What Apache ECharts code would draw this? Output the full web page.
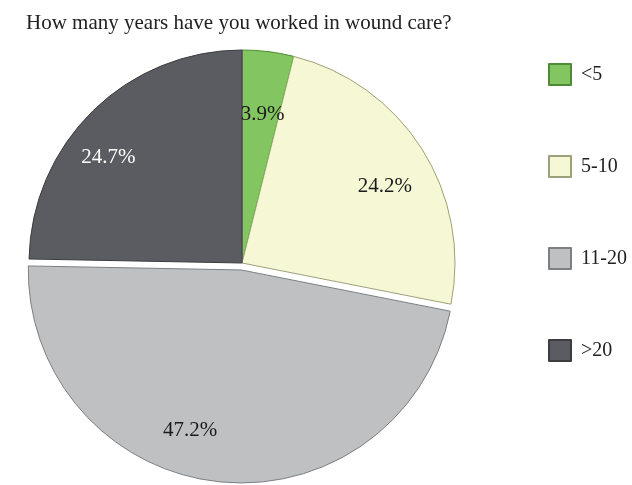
<!DOCTYPE html>
<html>
<head>
<meta charset="utf-8">
<script src="https://cdn.jsdelivr.net/npm/echarts@6/dist/echarts.min.js"></script>
<style>
  html, body { margin: 0; padding: 0; background: #fff; }
  #chart { width: 632px; height: 485px; }
</style>
</head>
<body>
<div id="chart"></div>
<script>
// Survey: years worked in wound care (percent of respondents)
const titleText = 'How many years have you worked in wound care?';
const categories = ['<5', '5-10', '11-20', '>20'];
const shares = [3.9, 24.2, 47.2, 24.7];
const raisedSlice = '11-20';

// Styling
const sliceColors = ['#83c561', '#f6f7d4', '#bfc0c2', '#5a5c61'];
const edgeColors = ['#4f8a36', '#9ea07c', '#7d7f82', '#3c3d41'];
const labelColors = ['#1a1a1a', '#1a1a1a', '#1a1a1a', '#ffffff'];
const labelNudge = [[0, 18], [1, 14], [-34, 0], [-16, 14]];

const serif = '"Liberation Serif", "DejaVu Serif", serif';
const pieCenter = [242, 263];

const pieData = categories.map((name, i) => ({
  name,
  value: shares[i],
  selected: name === raisedSlice,
  itemStyle: { color: sliceColors[i], borderColor: edgeColors[i], borderWidth: 1 }
}));

// Invisible twin pie: only carries the percentage labels further out along each slice
const labelData = categories.map((name, i) => ({
  name,
  value: shares[i],
  label: { color: labelColors[i] }
}));

const chart = echarts.init(document.getElementById('chart'), null, { renderer: 'canvas' });

chart.setOption({
  backgroundColor: '#ffffff',
  animation: false,
  title: {
    text: titleText,
    left: 26,
    top: 13,
    padding: 0,
    textStyle: { fontFamily: serif, fontSize: 21, fontWeight: 'normal', color: '#222' }
  },
  legend: {
    orient: 'vertical',
    left: 548,
    top: 63,
    padding: 0,
    itemWidth: 22,
    itemHeight: 21,
    itemGap: 69,
    icon: 'rect',
    selectedMode: false,
    data: categories,
    textStyle: { fontFamily: serif, fontSize: 20, color: '#222', padding: [0, 0, 0, 5] }
  },
  series: [
    {
      name: 'years',
      type: 'pie',
      z: 2,
      center: pieCenter,
      radius: [0, 213],
      startAngle: 90,
      clockwise: true,
      selectedMode: 'single',
      selectedOffset: 7,
      silent: true,
      label: { show: false },
      labelLine: { show: false },
      data: pieData
    },
    {
      name: 'labels',
      type: 'pie',
      z: 5,
      center: pieCenter,
      radius: [0, 330],
      startAngle: 90,
      clockwise: true,
      silent: true,
      itemStyle: { color: 'rgba(0,0,0,0)', borderWidth: 0 },
      label: {
        show: true,
        position: 'inside',
        formatter: p => p.value.toFixed(1) + '%',
        fontFamily: serif,
        fontSize: 21
      },
      labelLine: { show: false },
      labelLayout: p => ({ dx: labelNudge[p.dataIndex][0], dy: labelNudge[p.dataIndex][1] }),
      data: labelData
    }
  ]
});
</script>
</body>
</html>
